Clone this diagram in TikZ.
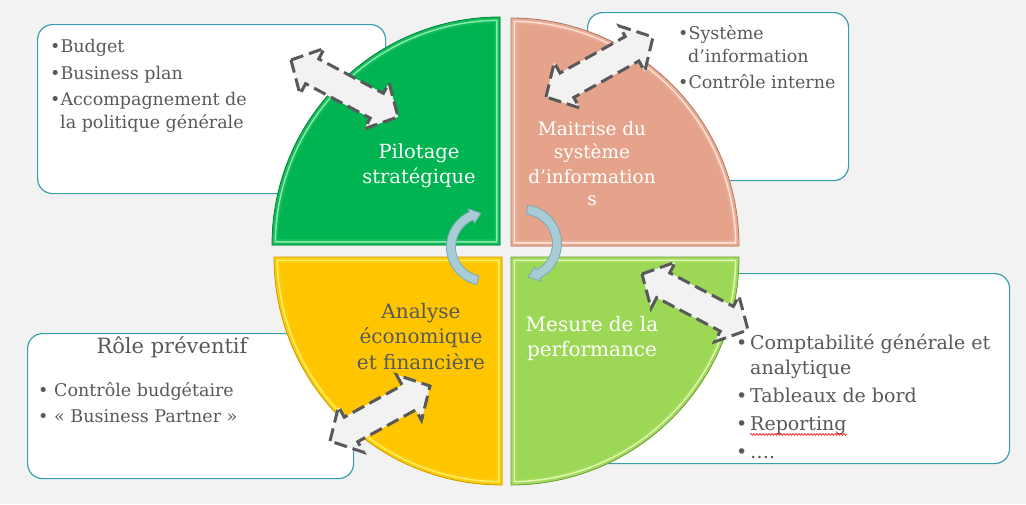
\documentclass[tikz,border=0pt]{standalone}
\usepackage{fontspec}
\setmainfont{DejaVu Serif}
\usetikzlibrary{calc,decorations.pathmorphing}
\definecolor{bg}{HTML}{F2F2F2}
\definecolor{txt}{HTML}{595959}
\definecolor{boxline}{HTML}{3A9EAE}
\definecolor{qgreen}{HTML}{00B451}
\definecolor{qgreenb}{HTML}{14BC5A}
\definecolor{qgreenl}{HTML}{8CEBB0}
\definecolor{qgreend}{HTML}{00843C}
\definecolor{qsalmon}{HTML}{E5A38B}
\definecolor{qsalmonb}{HTML}{E9AD97}
\definecolor{qsalmonl}{HTML}{FFE2D6}
\definecolor{qsalmond}{HTML}{B07A66}
\definecolor{qyellow}{HTML}{FFC600}
\definecolor{qyellowb}{HTML}{FFCB10}
\definecolor{qyellowl}{HTML}{FFF160}
\definecolor{qyellowd}{HTML}{C99A00}
\definecolor{qlime}{HTML}{9CD755}
\definecolor{qlimeb}{HTML}{A3DB60}
\definecolor{qlimel}{HTML}{E2F8B0}
\definecolor{qlimed}{HTML}{6E9E35}
\definecolor{cyc}{HTML}{A8CCD6}
\definecolor{cycd}{HTML}{7BA8B4}
\definecolor{arrline}{HTML}{595959}
\tikzset{
  infobox/.style={draw=boxline, line width=1.2pt, fill=white, rounded corners=15pt, inner sep=0pt, anchor=north west},
  boxtxt/.style={anchor=base west, inner sep=0pt, text=txt, font=\fontsize{17.5}{20}\selectfont},
  bigtxt/.style={anchor=base west, inner sep=0pt, text=txt, font=\fontsize{19}{22}\selectfont},
  titletxt/.style={anchor=base, inner sep=0pt, text=txt, font=\fontsize{21}{24}\selectfont},
  qtxt/.style={anchor=base, inner sep=0pt, text=white, font=\fontsize{19.5}{22}\selectfont},
  dasharrow/.style={draw=arrline, line width=3pt, dash pattern=on 13pt off 6pt, fill=bg, line join=miter, miter limit=4},
  cycarrow/.style={fill=cyc, draw=cycd, line width=0.8pt, line join=round},
  spell/.style={draw=red, line width=0.6pt, decorate, decoration={snake, amplitude=0.9pt, segment length=3pt}},
}
\newcommand\quadpath[3]{(#1,#2) -- ++(#3:228) arc[start angle=#3, delta angle=90, radius=228] -- cycle}
% cx cy angle main band light dark
\newcommand\drawquad[7]{%
  \fill[#4] \quadpath{#1}{#2}{#3};
  \begin{scope}
    \clip \quadpath{#1}{#2}{#3};
    \draw[#5, line width=12pt] \quadpath{#1}{#2}{#3};
    \draw[#6, line width=8pt] \quadpath{#1}{#2}{#3};
    \draw[#5, line width=5pt] \quadpath{#1}{#2}{#3};
  \end{scope}
  \draw[#7, line width=0.8pt] \quadpath{#1}{#2}{#3};
}
\newcommand\dblarrow[2]{%
  \path ($(#1)!24pt!(#2)$) coordinate (#1h) ($(#2)!24pt!(#1)$) coordinate (#2h);
  \draw[dasharrow] (#1) -- ($(#1h)!26pt!90:(#2)$) -- ($(#1h)!14pt!90:(#2)$)
    -- ($(#2h)!14pt!-90:(#1)$) -- ($(#2h)!26pt!-90:(#1)$) -- (#2)
    -- ($(#2h)!26pt!90:(#1)$) -- ($(#2h)!14pt!90:(#1)$)
    -- ($(#1h)!14pt!-90:(#2)$) -- ($(#1h)!26pt!-90:(#2)$) -- cycle;
}
\newcommand\cycarr[4]{%
  \draw[cycarrow] ($(#1)+(#2:38.5)$) arc[start angle=#2, end angle=#3, radius=38.5]
    -- ($(#1)+(#3:42)$) -- ($(#1)+(#4:34)$) -- ($(#1)+(#3:26)$)
    -- ($(#1)+(#3:29.5)$) arc[start angle=#3, end angle=#2, radius=29.5] -- cycle;
}
\begin{document}
\begin{tikzpicture}[x=1pt, y=-1pt]
\fill[bg] (0,0) rectangle (1026,504);
\useasboundingbox (0,0) rectangle (1026,504);

% info boxes
\node[infobox, minimum width=348pt, minimum height=169pt] (box1) at (37,24) {};
\node[infobox, minimum width=261pt, minimum height=168pt] (box2) at (587,12) {};
\node[infobox, minimum width=326pt, minimum height=145pt] (box3) at (27,333) {};
\node[infobox, minimum width=419pt, minimum height=190pt] (box4) at (590,273) {};

% box 1 text
\node[boxtxt] (t1a) at (50,52) {•Budget};
\node[boxtxt] (t1b) at (50,79) {•Business plan};
\node[boxtxt] (t1c) at (50,105) {•Accompagnement de};
\node[boxtxt] (t1d) at (60,128) {la politique générale};

% box 2 text
\node[boxtxt] (t2a) at (678,39) {•Système};
\node[boxtxt] (t2b) at (688,62) {d’information};
\node[boxtxt] (t2c) at (678,88) {•Contrôle interne};

% box 3 text
\node[titletxt] (t3t) at (172,353) {Rôle préventif};
\node[boxtxt] (b3a) at (38,396) {•};
\node[boxtxt] (t3a) at (54,396) {Contrôle budgétaire};
\node[boxtxt] (b3b) at (38,422) {•};
\node[boxtxt] (t3b) at (54,422) {« Business Partner »};

% box 4 text
\node[bigtxt] (b4a) at (736,349) {•};
\node[bigtxt] (t4a) at (750,349) {Comptabilité générale et};
\node[bigtxt] (t4b) at (750,374) {analytique};
\node[bigtxt] (b4c) at (736,402) {•};
\node[bigtxt] (t4c) at (750,402) {Tableaux de bord};
\node[bigtxt] (b4d) at (736,430) {•};
\node[bigtxt] (t4d) at (750,430) {Reporting};
\node[bigtxt] (b4e) at (736,458) {•};
\node[bigtxt] (t4e) at (750,458) {….};
\draw[spell] (t4d.south west) -- (t4d.south east);

% quadrants
\drawquad{500}{245}{180}{qgreen}{qgreenb}{qgreenl}{qgreend}
\drawquad{511}{246}{270}{qsalmon}{qsalmonb}{qsalmonl}{qsalmond}
\drawquad{502}{257}{90}{qyellow}{qyellowb}{qyellowl}{qyellowd}
\drawquad{511}{257}{0}{qlime}{qlimeb}{qlimel}{qlimed}

% quadrant labels
\node[qtxt] (q1a) at (419,158) {Pilotage};
\node[qtxt] (q1b) at (419,183) {stratégique};
\node[qtxt, font=\fontsize{18.5}{21}\selectfont] (q2a) at (592,135) {Maitrise du};
\node[qtxt, font=\fontsize{18.5}{21}\selectfont] (q2b) at (592,158) {système};
\node[qtxt, font=\fontsize{18.5}{21}\selectfont] (q2c) at (592,183) {d’information};
\node[qtxt, font=\fontsize{18.5}{21}\selectfont] (q2d) at (592,205) {s};
\node[qtxt, text=txt, font=\fontsize{20}{23}\selectfont] (q3a) at (421,318) {Analyse};
\node[qtxt, text=txt, font=\fontsize{20}{23}\selectfont] (q3b) at (421,343) {économique};
\node[qtxt, text=txt, font=\fontsize{20}{23}\selectfont] (q3c) at (421,369) {et financière};
\node[qtxt, font=\fontsize{20}{23}\selectfont] (q4a) at (592,331) {Mesure de la};
\node[qtxt, font=\fontsize{20}{23}\selectfont] (q4b) at (592,356) {performance};

% dashed double arrows
\coordinate (a1s) at (291,60);  \coordinate (a1e) at (398,117);
\coordinate (a2s) at (546,97);  \coordinate (a2e) at (653,37);
\coordinate (a3s) at (330,441); \coordinate (a3e) at (430,386);
\coordinate (a4s) at (642,274); \coordinate (a4e) at (748,330);
\dblarrow{a1s}{a1e}
\dblarrow{a2s}{a2e}
\dblarrow{a3s}{a3e}
\dblarrow{a4s}{a4e}

% cycle arrows
\coordinate (c1) at (485,247);
\coordinate (c2) at (523,243.5);
\cycarr{c1}{102}{246}{263}
\cycarr{c2}{277}{424}{441}
\end{tikzpicture}
\end{document}
